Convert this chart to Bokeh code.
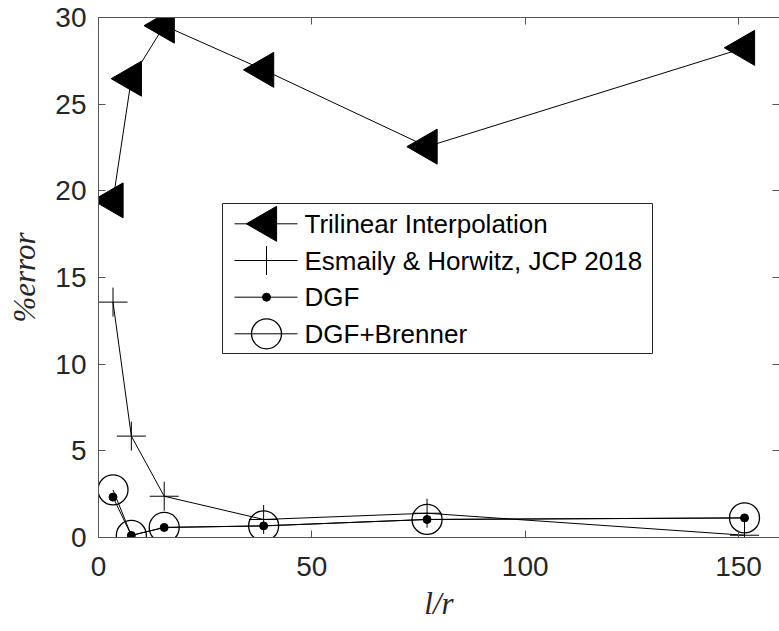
import numpy as np
from bokeh.plotting import figure
from bokeh.models import Range1d, LinearAxis, FixedTicker
from bokeh.core.properties import value
from bokeh.embed import file_html
from bokeh.resources import INLINE

# l/r values shared by every method
l_over_r = [3.4, 7.7, 15.4, 38.7, 77.0, 151.4]

# percent error for each method
trilinear = [19.45, 26.47, 29.53, 26.98, 22.55, 28.25]
esmaily = [13.58, 5.85, 2.38, 1.04, 1.40, 0.13]
dgf = [2.33, 0.12, 0.58, 0.67, 1.04, 1.13]
dgf_brenner = [2.75, 0.12, 0.58, 0.67, 1.04, 1.13]

series_labels = [
    "Trilinear Interpolation",
    "Esmaily & Horwitz, JCP 2018",
    "DGF",
    "DGF+Brenner",
]

x_ticks = [0, 50, 100, 150]
y_ticks = [0, 5, 10, 15, 20, 25, 30]

# ---- layout (pixels) ----
W, H = 779, 631
LEFT, TOP, RIGHT, BOTTOM = 98, 17, 0, 94
FRAME_W = W - LEFT - RIGHT
FRAME_H = H - TOP - BOTTOM
X_END, Y_END = 159.6, 30.0

AXIS_COLOR = "#555555"
LABEL_COLOR = "#262626"
SANS = "Liberation Sans"
SERIF = "Liberation Serif"


def data_x(px):
    """Canvas pixel column -> data x."""
    return (px - LEFT) / FRAME_W * X_END


def data_y(py):
    """Canvas pixel row -> data y."""
    return (TOP + FRAME_H - py) / FRAME_H * Y_END


p = figure(
    width=W, height=H,
    x_range=Range1d(0, X_END), y_range=Range1d(0, Y_END),
    output_backend="svg", toolbar_location=None,
    min_border_left=LEFT, min_border_right=RIGHT,
    min_border_top=TOP, min_border_bottom=BOTTOM,
)
p.grid.visible = False
p.outline_line_color = None
p.background_fill_color = "white"
p.border_fill_color = "white"


def style_axis(ax, ticks, show_labels=True):
    ax.ticker = FixedTicker(ticks=ticks)
    ax.major_tick_in = 7
    ax.major_tick_out = 0
    ax.minor_tick_in = 0
    ax.minor_tick_out = 0
    ax.axis_line_color = AXIS_COLOR
    ax.axis_line_width = 1
    ax.major_tick_line_color = AXIS_COLOR
    ax.major_label_text_font = SANS
    if show_labels:
        ax.major_label_text_font_size = "28px"
        ax.major_label_text_color = LABEL_COLOR
    else:
        # tick marks only: the box edge carries no numbers
        ax.major_label_text_color = None
        ax.major_label_text_font_size = "0px"
        ax.major_label_standoff = 0


style_axis(p.xaxis[0], x_ticks)
style_axis(p.yaxis[0], y_ticks)
p.xaxis[0].major_label_standoff = 19
p.yaxis[0].major_label_standoff = 12

for ax in (p.xaxis[0], p.yaxis[0]):
    ax.axis_label_text_font = SERIF
    ax.axis_label_text_font_style = "italic"
    ax.axis_label_text_font_size = "31px"
    ax.axis_label_text_color = LABEL_COLOR
p.xaxis[0].axis_label = "l/r"
p.xaxis[0].axis_label_standoff = 7
p.yaxis[0].axis_label = "%error"
p.yaxis[0].axis_label_standoff = 10

top_axis = LinearAxis()
style_axis(top_axis, x_ticks, show_labels=False)
p.add_layout(top_axis, "above")

right_axis = LinearAxis()
style_axis(right_axis, y_ticks, show_labels=False)
right_axis.axis_line_color = None
p.add_layout(right_axis, "right")

# ---- data series ----
p.line(l_over_r, trilinear, line_color="black", line_width=1)
p.scatter(l_over_r, trilinear, marker="triangle", size=35, angle=np.pi / 2,
          fill_color="black", line_color="black", line_width=1)

p.line(l_over_r, esmaily, line_color="black", line_width=1)
p.scatter(l_over_r, esmaily, marker="cross", size=29,
          line_color="black", line_width=1)

p.line(l_over_r, dgf, line_color="black", line_width=1)
p.scatter(l_over_r, dgf, marker="circle", size=8,
          fill_color="black", line_color="black", line_width=1)

p.line(l_over_r, dgf_brenner, line_color="black", line_width=1)
p.scatter(l_over_r, dgf_brenner, marker="circle", size=30,
          fill_color=None, line_color="black", line_width=1.3)

# ---- legend, drawn with full-size markers ----
box_l, box_r, box_t, box_b = 222, 652, 203, 353
row_py = [223.3, 260.0, 296.7, 333.3]
line_x0, line_x1, mark_px, text_px = 234, 297, 266, 304

p.quad(left=[data_x(box_l)], right=[data_x(box_r)],
       top=[data_y(box_t)], bottom=[data_y(box_b)],
       fill_color="white", line_color=LABEL_COLOR, line_width=1)

marker_styles = [
    dict(marker="triangle", size=35, angle=np.pi / 2, fill_color="black",
         line_color="black", line_width=1),
    dict(marker="cross", size=29, line_color="black", line_width=1),
    dict(marker="circle", size=8, fill_color="black", line_color="black",
         line_width=1),
    dict(marker="circle", size=30, fill_color=None, line_color="black",
         line_width=1.3),
]

for label, py, style in zip(series_labels, row_py, marker_styles):
    yy = data_y(py)
    p.line([data_x(line_x0), data_x(line_x1)], [yy, yy],
           line_color="black", line_width=1)
    p.scatter([data_x(mark_px)], [yy], **style)
    p.text(x=[data_x(text_px)], y=[yy], text=[label],
           text_font=value(SANS), text_font_size="26px",
           text_color="black", text_align="left", text_baseline="middle")

open("out.html", "w").write(file_html(p, INLINE))
